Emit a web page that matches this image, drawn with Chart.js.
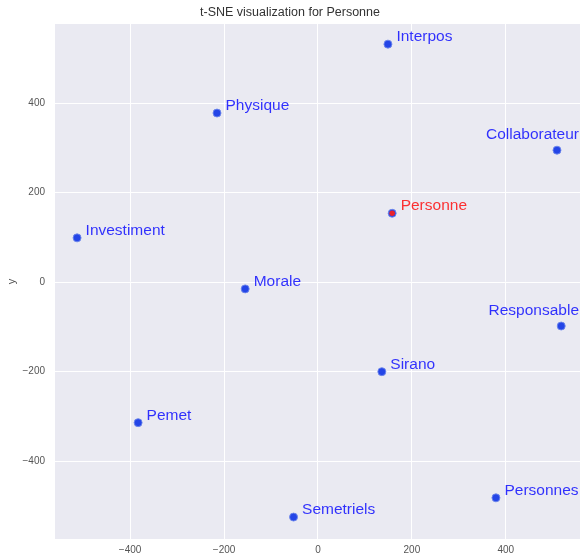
<!DOCTYPE html>
<html>
<head>
<meta charset="utf-8">
<script src="https://cdn.jsdelivr.net/npm/chart.js@4"></script>
<style>
  html, body { margin: 0; padding: 0; background: #ffffff; }
  #wrap { width: 580px; height: 560px; }
</style>
</head>
<body>
<div id="wrap"><canvas id="c" width="580" height="560"></canvas></div>
<script>
// Words and their 2-D t-SNE coordinates
const words   = ['Interpos', 'Physique', 'Collaborateur', 'Personne', 'Investiment', 'Responsable', 'Morale', 'Sirano', 'Pemet', 'Personnes', 'Semetriels'];
const xValues = [149, -215, 509, 158, -513, 518, -155, 136, -383, 379, -52];
const yValues = [532, 378, 295, 154, 99, -98, -15, -200, -314, -482, -525];
const focusWord = 'Personne';
const xTicks = [-400, -200, 0, 200, 400];
const yTicks = [-400, -200, 0, 200, 400];

const FONT = '"Liberation Sans", Arial, sans-serif';
const BLUE_TEXT = 'rgba(0,0,255,0.8)';
const RED_TEXT = 'rgba(255,0,0,0.8)';

const allPoints = words.map((w, i) => ({ x: xValues[i], y: yValues[i] }));
const focusPoints = words
  .map((w, i) => (w === focusWord ? { x: xValues[i], y: yValues[i] } : null))
  .filter(p => p !== null);

const fmt = v => String(v).replace('-', '\u2212');

// Grey plotting panel behind the grid
const panelBg = {
  id: 'panelBg',
  beforeDraw(chart) {
    const { ctx, chartArea: a } = chart;
    ctx.save();
    ctx.fillStyle = '#EAEAF2';
    ctx.fillRect(a.left, a.top, a.right - a.left, a.bottom - a.top);
    ctx.restore();
  }
};

// Word annotations next to each point; labels that would run off the
// right edge are pulled back inside and lifted above their point
const wordLabels = {
  id: 'wordLabels',
  afterDatasetsDraw(chart) {
    const { ctx } = chart;
    const meta = chart.getDatasetMeta(0);
    ctx.save();
    ctx.font = '15.5px ' + FONT;
    ctx.textBaseline = 'alphabetic';
    meta.data.forEach((pt, i) => {
      const w = words[i];
      ctx.fillStyle = w === focusWord ? RED_TEXT : BLUE_TEXT;
      const width = ctx.measureText(w).width;
      if (pt.x + 8.5 + width > chart.width) {
        ctx.textAlign = 'right';
        ctx.fillText(w, chart.width - 1, pt.y - 11.5);
      } else {
        ctx.textAlign = 'left';
        ctx.fillText(w, pt.x + 8.5, pt.y - 3);
      }
    });
    ctx.restore();
  }
};

new Chart(document.getElementById('c'), {
  type: 'scatter',
  data: {
    datasets: [
      {
        data: allPoints,
        backgroundColor: 'rgba(25,60,230,0.95)',
        borderColor: 'rgba(110,135,235,0.9)',
        borderWidth: 1,
        pointRadius: 4,
        order: 1
      },
      {
        data: focusPoints,
        backgroundColor: '#e8222c',
        borderWidth: 0,
        pointRadius: 2.8,
        order: 0
      }
    ]
  },
  options: {
    responsive: false,
    animation: false,
    layout: { padding: 0, autoPadding: false },
    plugins: {
      legend: { display: false },
      tooltip: { enabled: false },
      title: {
        display: true,
        text: 't-SNE visualization for Personne',
        color: '#333333',
        font: { family: FONT, size: 12.5, weight: 'normal' },
        padding: { top: 5, bottom: 4 }
      }
    },
    scales: {
      x: {
        type: 'linear',
        min: -560,
        max: 558,
        afterBuildTicks: s => { s.ticks = xTicks.map(v => ({ value: v })); },
        afterFit: s => { s.height = 21; s.paddingLeft = 0; s.paddingRight = 0; },
        ticks: {
          color: '#555555',
          font: { family: FONT, size: 10 },
          padding: 5,
          maxRotation: 0,
          autoSkip: false,
          callback: v => fmt(v)
        },
        grid: { color: '#ffffff', lineWidth: 1, drawTicks: false },
        border: { display: false }
      },
      y: {
        type: 'linear',
        min: -574,
        max: 577,
        afterBuildTicks: s => { s.ticks = yTicks.map(v => ({ value: v })); },
        afterFit: s => { s.width = 55; s.paddingTop = 0; s.paddingBottom = 0; },
        title: {
          display: true,
          text: 'y',
          color: '#555555',
          font: { family: FONT, size: 11 },
          padding: { top: 5, bottom: 0 }
        },
        ticks: {
          color: '#555555',
          font: { family: FONT, size: 10 },
          padding: 10,
          autoSkip: false,
          callback: v => fmt(v)
        },
        grid: { color: '#ffffff', lineWidth: 1, drawTicks: false },
        border: { display: false }
      }
    }
  },
  plugins: [panelBg, wordLabels]
});
</script>
</body>
</html>
